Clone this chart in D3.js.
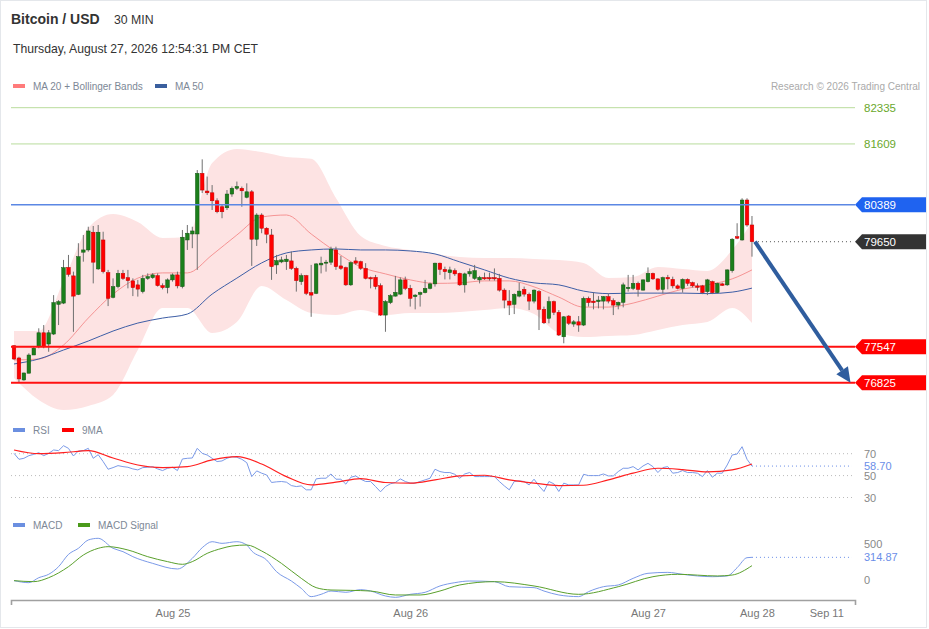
<!DOCTYPE html>
<html>
<head>
<meta charset="utf-8">
<script src="https://d3js.org/d3.v7.min.js"></script>
<style>
  body { margin: 0; background: #fff; }
  svg text { font-family: "Liberation Sans", Arial, sans-serif; }
</style>
</head>
<body>
<svg id="chart" width="929" height="629"></svg>
<script>
// 30 min candles, Aug 24 08:00 -> Aug 27 10:30
var open = [77565,77320,76880,77015,77380,77545,77825,77600,77800,78395,
  78420,79135,78965,78595,79440,79485,79840,79105,79685,79030,
  78535,78750,79015,78930,78865,78785,78650,78915,78930,78970,
  78770,78730,78885,78985,78750,79685,79805,79805,81020,80665,
  80630,80470,80350,80330,80605,80720,80720,80540,80650,79700,
  80185,79920,79785,79185,79245,79250,79265,79115,78850,78970,
  78630,78615,79185,79220,79240,79485,79165,79130,78785,79265,
  79250,79115,78930,78935,78770,78180,78430,78560,78600,78885,
  78715,78550,78595,78630,78715,78805,79220,79095,79030,79070,
  79015,78785,79005,78915,78885,78930,78930,78930,78915,78680,
  78460,78395,78560,78695,78595,78460,78650,78295,78115,78450,
  78235,77745,78160,78000,78045,77980,78515,78460,78450,78460,
  78550,78470,78380,78435,78710,78715,78815,78680,78850,79015,
  78905,78695,78935,78895,78765,78715,78895,78830,78765,78765,
  78650,78850,78630,78805,78785,79070,79750,79685,80485,79985];
var high = [77580,77345,77025,77415,77560,77915,77980,77880,78580,78480,
  79285,79385,79050,79620,79785,79950,79965,79985,79850,79085,
  78915,79085,79085,79085,78915,78885,78985,79015,79020,79015,
  78815,78915,79015,79050,79885,79985,79950,81085,81300,80955,
  80785,80520,80385,80685,80755,80855,80755,80820,80685,80220,
  80220,79940,79905,79385,79350,79385,79450,79150,79015,78985,
  79185,79220,79350,79285,79550,79550,79365,79150,79250,79340,
  79270,79220,78950,78985,78815,78480,78600,78965,78935,78950,
  78785,78600,78650,78885,78830,79230,79230,79150,79150,79115,
  79030,79030,79115,79185,78965,79030,79030,79115,79005,78715,
  78680,78615,78830,78750,78630,78695,78680,78350,78550,78470,
  78280,78160,78180,78080,78160,78550,78550,78630,78560,78560,
  78615,78515,78450,78830,78985,78985,78850,78895,79135,79030,
  78915,78950,78985,78950,78795,78915,78915,78850,78815,78785,
  78905,78870,78830,78830,79095,79720,80020,80520,80520,80165];
var low = [77280,76825,76865,77015,77380,77515,77515,77445,77780,77980,
  78400,78950,77845,78580,79250,79450,78815,79085,79015,78360,
  78515,78715,78885,78715,78560,78550,78615,78885,78905,78750,
  78695,78615,78850,78715,78715,79485,79520,79085,80625,80585,
  80285,80220,80120,80285,80550,80685,80350,80520,79165,79565,
  79820,79620,78885,79005,79220,79085,79085,78650,78785,78580,
  78145,78600,79015,79050,79185,79085,79085,78765,78765,79185,
  79085,78895,78715,78695,78165,77845,78400,78550,78580,78680,
  78350,78295,78350,78615,78695,78750,78985,78895,78895,78965,
  78765,78630,78950,78885,78815,78885,78870,78870,78650,78315,
  78180,78200,78535,78550,78280,78415,77880,78000,78015,78180,
  77760,77615,77980,77945,77845,77960,78350,78295,78315,78295,
  78415,78180,78295,78335,78650,78680,78550,78670,78835,78885,
  78670,78615,78695,78715,78695,78630,78765,78735,78670,78600,
  78580,78600,78615,78765,78765,79030,79700,79670,79950,79350];
var close = [77300,76900,77020,77380,77515,77825,77545,77825,78430,78450,
  79130,78995,78560,79350,79485,79865,79240,79840,79050,78515,
  78750,79015,78915,78870,78730,78700,78915,78950,78985,78770,
  78730,78885,78985,78765,79740,79820,79865,81020,80685,80630,
  80470,80250,80250,80605,80720,80755,80670,80650,79700,80185,
  79920,79800,79150,79270,79285,79300,79115,78870,78970,78615,
  78580,79205,79220,79240,79500,79150,79115,78785,79230,79220,
  79115,78915,78905,78750,78180,78450,78570,78635,78885,78715,
  78515,78580,78630,78715,78805,79220,79095,79050,79085,79005,
  78785,79005,79050,79070,78935,78905,78905,78905,78680,78480,
  78380,78595,78660,78600,78460,78680,78295,78025,78450,78235,
  77780,78145,78015,78045,77980,78515,78430,78430,78480,78550,
  78460,78380,78435,78785,78735,78815,78695,78885,79015,78905,
  78695,78930,78905,78765,78715,78895,78815,78765,78735,78630,
  78885,78630,78815,78775,79085,79700,79720,80485,79985,79650];

// indicator samples, every 5 candles
var sampleIdx = [0,5,10,15,20,25,30,35,40,45,50,55,60,65,70,75,80,85,90,95,
  100,105,110,115,120,125,130,135,140,145,149];
var ma20 = [77280,77300,77580,78120,78600,78920,79025,79025,79385,79785,80145,80185,79805,79445,79145,79005,
  78885,78815,78825,78865,78865,78745,78540,78340,78340,78420,78560,78700,78785,78905,79085];
var bbUpper = [77860,77860,78865,79925,80205,80045,79725,79745,81225,81510,81445,81345,81310,80525,79765,79565,
  79485,79405,79345,79325,79325,79305,79285,79225,78925,78945,79145,79105,79065,79485,80045];
var bbLower = [76920,76480,76280,76360,76580,77480,78320,78320,77820,78040,78765,78480,78220,78180,78280,78180,
  78220,78220,78240,78280,78320,78200,77820,77740,77760,77780,77880,77980,78040,78320,78020];
var ma50 = [77200,77300,77480,77660,77860,78020,78120,78200,78600,78920,79225,79425,79485,79505,79485,79485,
  79465,79405,79245,79085,78920,78825,78785,78660,78610,78620,78620,78620,78610,78640,78720];

var rsi = [70.3,64.9,65.8,68.2,69.4,70.9,68.2,70.3,73.4,72.8,
  77.3,74.9,67.9,72.5,72.8,74.9,65.8,69.1,62.8,55.8,
  57.3,59.1,58.2,57.6,56.1,55.2,57.3,57.6,58.2,56.1,
  54.6,56.7,57.6,54.6,65.2,65.8,66.1,74.9,70.3,68.8,
  65.8,62.8,63.4,65.8,67.3,66.7,64.9,61.8,49.1,54.3,
  52.2,50.6,43.7,44.3,44.6,44.0,40.9,40.0,40.6,37.0,
  37.0,47.0,47.6,47.6,51.5,46.7,46.7,42.2,48.5,49.7,
  46.7,44.6,44.6,40.0,35.2,40.0,42.5,43.7,47.0,44.6,
  43.1,43.1,44.6,46.1,47.6,55.8,53.7,52.8,52.8,51.2,
  47.6,51.5,52.8,49.1,49.1,49.1,49.1,49.1,44.6,40.6,
  37.0,44.6,45.2,44.6,41.5,46.7,40.6,35.5,44.6,42.5,
  35.5,43.1,41.5,41.5,41.5,51.2,50.0,50.0,50.0,51.5,
  49.7,49.7,53.7,56.7,56.7,58.2,55.2,58.8,61.2,58.2,
  52.8,57.3,58.2,52.2,52.8,54.6,52.8,52.8,52.2,49.1,
  54.6,48.5,52.2,52.2,59.7,68.8,69.7,76.4,64.9,58.7];
var rsiMa9 = [73.4,70.0,70.9,72.8,66.1,59.7,57.3,58.2,64.3,67.3,60.6,49.1,41.5,44.0,47.3,43.7,
  43.1,46.1,49.7,50.3,46.1,43.1,40.9,41.2,46.1,52.2,56.7,55.5,53.4,55.2,60.6];

var macdIdx = [0,3,5,7,9,11,13,15,17,20,22,24,28,33,36,38,40,42,45,47,48,51,53,56,58,60,62,64,67,70,
  72,75,77,80,83,86,89,92,97,100,105,107,110,114,116,119,122,125,128,132,135,138,141,144,146,148,149];
var macd = [-9,-37,32,79,185,356,440,556,579,440,394,324,231,153,301,449,532,509,532,486,403,278,116,-14,-116,-231,-199,-153,-171,-134,
  -153,-222,-241,-199,-171,-83,-37,-14,-23,-93,-106,-153,-208,-231,-162,-93,-69,23,93,106,79,56,46,56,171,310,315];
var signalIdx = [0,4,7,11,14,17,19,23,27,31,34,36,39,42,44,47,50,54,58,61,64,68,72,77,82,86,90,97,105,114,
  122,129,134,142,145,149];
var signal = [-9,-23,32,185,347,440,463,417,324,255,218,255,370,440,472,486,403,231,23,-106,-139,-144,-153,-208,-208,-153,-69,-23,-83,-199,
  -93,46,79,56,69,199];

var levels = [82335, 81609, 80389, 79650, 77547, 76825];
var levelKinds = ["res", "res", "blue", "last", "sup", "sup"];
var target = [[149.6, 79650], [168.9, 76825]];

var tickIdx = [32, 80, 128, 150, 164];
var tickLabels = ["Aug 25", "Aug 26", "Aug 27", "Aug 28", "Sep 11"];

var svg = d3.select("#chart");
var x = d3.scaleLinear().domain([-0.606, 169.8]).range([11, 855]);
var y = d3.scaleLinear().domain([76825, 82335]).range([382.7, 107.7]);
var yRsi = d3.scaleLinear().domain([30, 70]).range([497.5, 453.7]);
var yMacd = d3.scaleLinear().domain([0, 500]).range([580, 544]);
var last = open.length - 1;

// frame
svg.append("rect").attr("x", 0.5).attr("y", 0.5).attr("width", 926).attr("height", 627)
  .attr("fill", "#fff").attr("stroke", "#e4e7eb");

// header
svg.append("text").attr("x", 11).attr("y", 24).attr("font-size", 14).attr("font-weight", "bold")
  .attr("fill", "#333").text("Bitcoin / USD");
svg.append("text").attr("x", 114).attr("y", 24).attr("font-size", 12.3).attr("fill", "#333").text("30 MIN");
svg.append("text").attr("x", 13).attr("y", 53).attr("font-size", 12.2).attr("fill", "#333")
  .text("Thursday, August 27, 2026 12:54:31 PM CET");
svg.append("text").attr("x", 920).attr("y", 90).attr("font-size", 10).attr("fill", "#aaa")
  .attr("text-anchor", "end").text("Research \u00a9 2026 Trading Central");

function legend(items, ty) {
  items.forEach(function (it) {
    svg.append("rect").attr("x", it[0]).attr("y", ty - 6).attr("width", 12).attr("height", 4).attr("fill", it[1]);
    svg.append("text").attr("x", it[0] + 20).attr("y", ty).attr("font-size", 10).attr("fill", "#7d8896").text(it[2]);
  });
}
legend([[13, "#ff7b7b", "MA 20 + Bollinger Bands"], [155, "#3a5f9e", "MA 50"]], 90);
legend([[13, "#6b8fe0", "RSI"], [62, "#f00", "9MA"]], 434);
legend([[13, "#6b8fe0", "MACD"], [78, "#4a9a1a", "MACD Signal"]], 529);

// bollinger band + moving averages
var band = d3.area().curve(d3.curveMonotoneX)
  .x(function (d, i) { return x(sampleIdx[i]); })
  .y0(function (d, i) { return y(bbLower[i]); })
  .y1(function (d, i) { return y(bbUpper[i]); });
svg.append("path").datum(sampleIdx).attr("d", band).attr("fill", "#fde3e3");

function sampleLine(vals, idx, sc) {
  return d3.line().curve(d3.curveMonotoneX)
    .x(function (d, i) { return x(idx[i]); })
    .y(function (d) { return sc(d); })(vals);
}
svg.append("path").attr("d", sampleLine(ma20, sampleIdx, y)).attr("fill", "none")
  .attr("stroke", "#f48a8a").attr("stroke-width", 0.9);
svg.append("path").attr("d", sampleLine(ma50, sampleIdx, y)).attr("fill", "none")
  .attr("stroke", "#3d5ea6").attr("stroke-width", 1);

// candles
var candles = svg.append("g").selectAll("g").data(open).join("g");
candles.append("line")
  .attr("x1", function (d, i) { return x(i); }).attr("x2", function (d, i) { return x(i); })
  .attr("y1", function (d, i) { return y(high[i]); }).attr("y2", function (d, i) { return y(low[i]); })
  .attr("stroke", "#707070").attr("stroke-width", 1);
candles.append("rect")
  .attr("x", function (d, i) { return x(i) - 1.8; })
  .attr("width", 3.6)
  .attr("y", function (d, i) { return y(Math.max(open[i], close[i])); })
  .attr("height", function (d, i) { return Math.max(1, Math.abs(y(open[i]) - y(close[i]))); })
  .attr("fill", function (d, i) { return close[i] >= open[i] ? "#1b7f1b" : "#ff0000"; })
  .attr("stroke", function (d, i) { return close[i] >= open[i] ? "#125512" : "#c00000"; })
  .attr("stroke-width", 0.5);

// levels
levels.forEach(function (v, k) {
  var kind = levelKinds[k], ly = y(v);
  if (kind === "res") {
    svg.append("line").attr("x1", 11).attr("x2", 855).attr("y1", ly).attr("y2", ly)
      .attr("stroke", "#b9dc9c").attr("stroke-width", 1);
    svg.append("text").attr("x", 864).attr("y", ly + 4).attr("font-size", 11.5).attr("fill", "#6aa82c").text(v);
    return;
  }
  var col = kind === "blue" ? "#1f63f0" : kind === "last" ? "#333" : "#ff0000";
  if (kind === "blue") {
    svg.append("line").attr("x1", 11).attr("x2", 855).attr("y1", ly).attr("y2", ly)
      .attr("stroke", "#5b87e4").attr("stroke-width", 1.4);
  } else if (kind === "last") {
    svg.append("line").attr("x1", x(last) + 6).attr("x2", 853).attr("y1", ly).attr("y2", ly)
      .attr("stroke", "#555").attr("stroke-width", 1).attr("stroke-dasharray", "1,3");
  } else {
    svg.append("line").attr("x1", 11).attr("x2", 855).attr("y1", ly).attr("y2", ly)
      .attr("stroke", "#ff1010").attr("stroke-width", 2);
  }
  svg.append("path").attr("d", "M855," + ly + "L862," + (ly - 7.5) + "H926V" + (ly + 7.5) + "H862Z").attr("fill", col);
  svg.append("text").attr("x", 864).attr("y", ly + 4).attr("font-size", 11.5).attr("fill", "#fff").text(v);
});

// target arrow
var ax0 = x(target[0][0]), ay0 = y(target[0][1]), ax1 = x(target[1][0]), ay1 = y(target[1][1]);
var dx = ax1 - ax0, dy = ay1 - ay0, len = Math.sqrt(dx * dx + dy * dy), ux = dx / len, uy = dy / len;
var hb = [ax1 - ux * 15, ay1 - uy * 15];
svg.append("line").attr("x1", ax0).attr("y1", ay0).attr("x2", hb[0]).attr("y2", hb[1])
  .attr("stroke", "#2f5d9e").attr("stroke-width", 4);
svg.append("path").attr("d", "M" + ax1 + "," + ay1 + "L" + (hb[0] - uy * 7) + "," + (hb[1] + ux * 7) +
  "L" + (hb[0] + uy * 7) + "," + (hb[1] - ux * 7) + "Z").attr("fill", "#2f5d9e");

// RSI pane
[70, 50, 30].forEach(function (v) {
  svg.append("line").attr("x1", 11).attr("x2", 852).attr("y1", yRsi(v)).attr("y2", yRsi(v))
    .attr("stroke", "#bbb").attr("stroke-dasharray", "1,3");
  svg.append("text").attr("x", 864).attr("y", yRsi(v) + 4).attr("font-size", 11).attr("fill", "#888").text(v);
});
svg.append("path").datum(rsi).attr("fill", "none").attr("stroke", "#7b9ae8").attr("stroke-width", 1)
  .attr("d", d3.line().x(function (d, i) { return x(i); }).y(function (d) { return yRsi(d); }));
svg.append("path").attr("d", sampleLine(rsiMa9, sampleIdx, yRsi)).attr("fill", "none")
  .attr("stroke", "#ff2020").attr("stroke-width", 1.2);
svg.append("line").attr("x1", x(last)).attr("x2", 852).attr("y1", yRsi(rsi[last])).attr("y2", yRsi(rsi[last]))
  .attr("stroke", "#6a8ee8").attr("stroke-dasharray", "1,3");
svg.append("text").attr("x", 864).attr("y", yRsi(rsi[last]) + 4).attr("font-size", 11).attr("fill", "#6a8ee8")
  .text(rsi[last].toFixed(2));

// MACD pane
[500, 0].forEach(function (v) {
  svg.append("text").attr("x", 864).attr("y", yMacd(v) + 4).attr("font-size", 11).attr("fill", "#888").text(v);
});
svg.append("path").attr("d", sampleLine(macd, macdIdx, yMacd)).attr("fill", "none")
  .attr("stroke", "#7b9ae8").attr("stroke-width", 1);
svg.append("path").attr("d", sampleLine(signal, signalIdx, yMacd)).attr("fill", "none")
  .attr("stroke", "#5aa02c").attr("stroke-width", 1);
var macdLast = 314.87;
svg.append("line").attr("x1", x(last)).attr("x2", 852).attr("y1", yMacd(macdLast)).attr("y2", yMacd(macdLast))
  .attr("stroke", "#6a8ee8").attr("stroke-dasharray", "1,3");
svg.append("text").attr("x", 864).attr("y", yMacd(macdLast) + 4).attr("font-size", 11).attr("fill", "#6a8ee8")
  .text(macdLast.toFixed(2));

// time axis
var axis = svg.append("g").attr("transform", "translate(0,600)")
  .call(d3.axisBottom(x).tickValues(tickIdx).tickFormat(function (d, i) { return tickLabels[i]; })
    .tickSizeInner(0).tickSizeOuter(5).tickPadding(9));
axis.select(".domain").attr("stroke", "#a0a0a0").attr("stroke-width", 1.6);
axis.selectAll("text").attr("font-size", 11).attr("fill", "#777")
  .style("font-family", "'Liberation Sans', Arial, sans-serif");
</script>
</body>
</html>
